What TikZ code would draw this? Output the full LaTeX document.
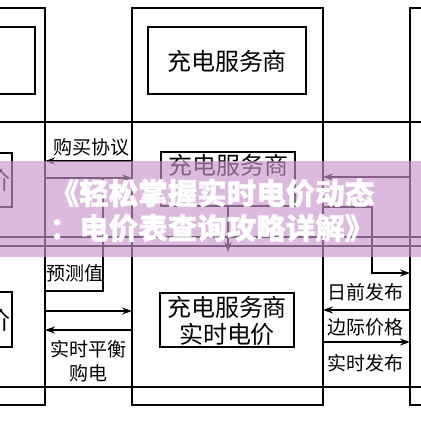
\documentclass[tikz,border=0pt]{standalone}
\usepackage{fontspec}
\setmainfont{Noto Sans CJK SC}
\newfontfamily\bannerfont{Noto Sans CJK SC}
\usetikzlibrary{arrows.meta}
\definecolor{bannercol}{RGB}{200,150,205}
\newcommand{\thicktext}[1]{\special{pdf:literal direct 2 Tr 0.35 w 1 1 1 RG}#1\special{pdf:literal direct 0 Tr 1 w}}
\begin{document}
\begin{tikzpicture}[x=1pt,y=-1pt,
  ln/.style={line width=1.2pt, draw=black},
  arr/.style={ln, -{Stealth[length=10pt,width=7pt]}},
  boxtxt/.style={font=\fontsize{24}{27}\selectfont, inner sep=0pt, align=center},
  lbl/.style={font=\fontsize{19}{24}\selectfont, inner sep=0pt, align=center},
  ibox/.style={ln, rectangle, inner sep=0pt},
  bannertxt/.style={font=\fontsize{29.5}{32}\selectfont\bannerfont\bfseries, text=white, inner sep=0pt}]
\useasboundingbox (0,0) rectangle (421,421);
\clip (0,0) rectangle (421,421);
\fill[white] (0,0) rectangle (421,421);

% columns
\draw[ln] (-200,8) rectangle (45,405);
\draw[ln] (132,8) rectangle (323,405);
\draw[ln] (410,8) rectangle (620,405);

% row lines
\draw[ln] (-10,122) -- (431,122);
\draw[ln] (-10,237) -- (431,237);
\draw[ln] (-10,246) -- (431,246);
\draw[ln] (-10,387) -- (431,387);

% top boxes
\draw[ln] (-123,27) rectangle (35,94);
\node[ibox, draw, minimum width=158pt, minimum height=67pt] (tc) at (227,60.5) {};
\node[boxtxt] (tct) at (227,61) {充电服务商};

% middle boxes
\draw[ln] (-120,153) rectangle (12,207);
\node[boxtxt, anchor=east] (mlt) at (10.5,180) {电价};
\node[ibox, draw, minimum width=134pt, minimum height=54pt] (mc) at (228,179) {};
\node[boxtxt] (mct) at (228,165) {充电服务商};

% bottom boxes
\draw[ln] (-120,292) rectangle (12,347);
\node[boxtxt, anchor=east] (blt) at (10.5,320) {电价};
\node[ibox, draw, minimum width=134pt, minimum height=54pt] (bc) at (227,320) {};
\node[boxtxt] (bct) at (227,320.5) {充电服务商\\实时电价};

% left-centre connectors
\coordinate (a1s) at (132,161); \coordinate (a1e) at (45,161);
\draw[arr] (a1s) -- (a1e);
\node[lbl] (l1) at (91,147) {购买协议};
\coordinate (a2s) at (45,178); \coordinate (a2e) at (132,178);
\draw[arr] (a2s) -- (a2e);
\coordinate (p1) at (103,178); \coordinate (p2) at (103,291); \coordinate (p3) at (45,291);
\draw[ln] (p1) -- (p2) -- (p3);
\node[lbl] (l2) at (75,273) {预测值};
\coordinate (a3s) at (45,311); \coordinate (a3e) at (132,311);
\draw[arr] (a3s) -- (a3e);
\coordinate (a4s) at (132,330); \coordinate (a4e) at (45,330);
\draw[arr] (a4s) -- (a4e);
\node[lbl] (l3) at (88,361) {实时平衡\\购电};

% centre down arrow
\coordinate (dd) at (228,252);
\draw[arr] (mc.south) -- (dd);

% centre-right connectors
\coordinate (b1s) at (410,177); \coordinate (b1e) at (323,177);
\draw[arr] (b1s) -- (b1e);
\coordinate (q1) at (323,207); \coordinate (q2) at (372,207); \coordinate (q3) at (372,273); \coordinate (q4) at (410,273);
\draw[arr] (q1) -- (q2) -- (q3) -- (q4);
\node[lbl] (r1) at (365,292) {日前发布};
\coordinate (b2s) at (410,310); \coordinate (b2e) at (323,310);
\draw[arr] (b2s) -- (b2e);
\node[lbl] (r2) at (365,327) {边际价格};
\coordinate (b3s) at (323,342); \coordinate (b3e) at (410,342);
\draw[arr] (b3s) -- (b3e);
\node[lbl] (r3) at (365,363) {实时发布};

% banner
\fill[bannercol, opacity=0.65] (0,161) rectangle (421,257);
\node[bannertxt] (bn1) at (212,193) {\thicktext{《轻松掌握实时电价动态}};
\node[bannertxt] (bn2) at (212,228) {\thicktext{：电价表查询攻略详解》}};
\end{tikzpicture}
\end{document}
